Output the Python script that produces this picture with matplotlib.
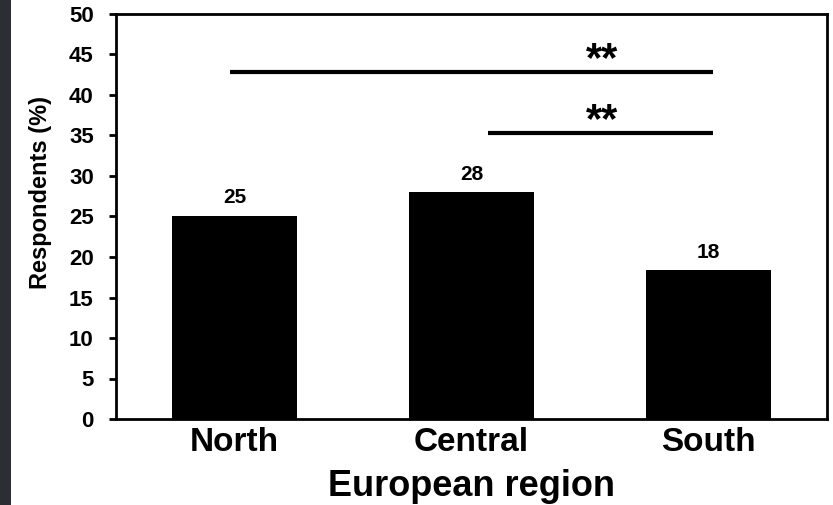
import matplotlib
matplotlib.use("Agg")
import matplotlib.pyplot as plt
from matplotlib.patches import Rectangle

regions = ["North", "Central", "South"]
values = [25.1, 28.0, 18.4]
value_labels = ["25", "28", "18"]
yticks = [0, 5, 10, 15, 20, 25, 30, 35, 40, 45, 50]

# significance brackets: (x start, x end, y, text x, label)
sig_lines = [(-0.02, 2.02, 42.8, 1.55, "**"),
             (1.07, 2.02, 35.3, 1.55, "**")]

plt.rcParams['font.family'] = ['Liberation Sans', 'DejaVu Sans']
plt.rcParams['font.weight'] = 'bold'

fig = plt.figure(figsize=(8.33, 5.05), dpi=100)
fig.patches.append(Rectangle((0, 0), 11 / 833, 1, transform=fig.transFigure,
                             facecolor='#2b2f33', edgecolor='none'))
ax = fig.add_axes([116 / 833, 86 / 505, 711 / 833, 405 / 505])

x = list(range(len(regions)))
ax.bar(x, values, width=0.53, color='black')
for xi, v, lab in zip(x, values, value_labels):
    ax.annotate(lab, (xi, v), xytext=(0, 6), textcoords='offset points',
                ha='center', va='bottom', fontsize=15, fontweight='bold')

for x0, x1, y, tx, lab in sig_lines:
    ax.plot([x0, x1], [y, y], color='black', lw=3, solid_capstyle='butt')
    ax.text(tx, y + 0.1, lab, ha='center', va='baseline', fontsize=30,
            fontweight='bold')

ax.set_xlim(-0.5, 2.5)
ax.set_ylim(0, 50)
ax.set_yticks(yticks)
ax.set_xticks(x)
ax.set_xticklabels(regions, fontsize=24, fontweight='bold')
ax.tick_params(axis='x', length=0, pad=6)
ax.tick_params(axis='y', length=5, width=2, labelsize=16, pad=11)
for lab in ax.get_yticklabels():
    lab.set_fontweight('bold')
for s in ax.spines.values():
    s.set_linewidth(2)
ax.set_ylabel('Respondents (%)', fontsize=17, fontweight='bold')
ax.yaxis.set_label_coords(-0.09, 0.56)
ax.set_xlabel('European region', fontsize=26, fontweight='bold', labelpad=8)

fig.savefig('out.png', dpi=100)
